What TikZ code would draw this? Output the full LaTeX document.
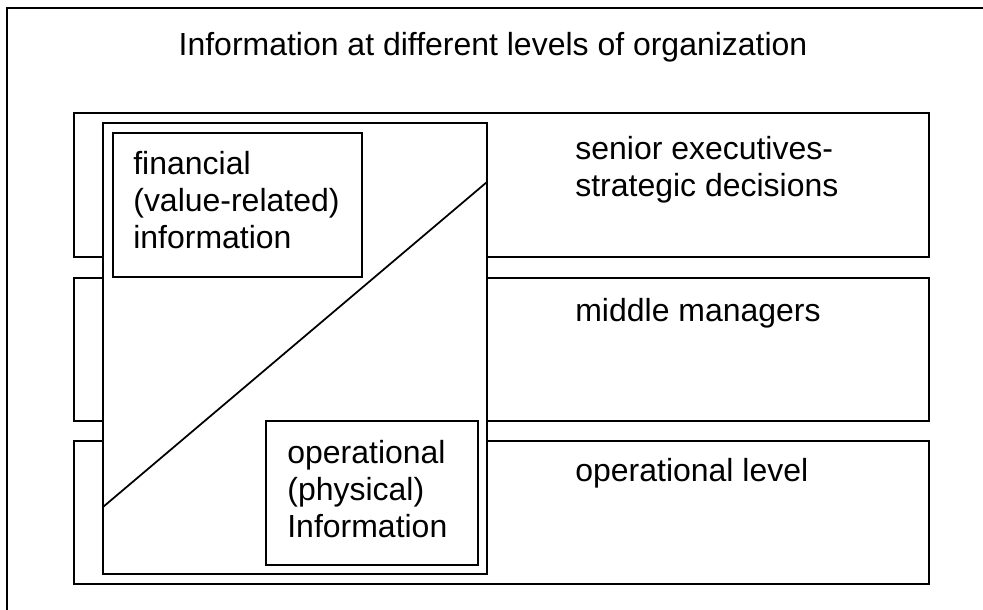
\documentclass[tikz,border=0pt]{standalone}
\usepackage{fontspec}
\setmainfont{Liberation Sans}
\usetikzlibrary{positioning}
\tikzset{
  frame/.style={draw=black,line width=1pt},
  levelbox/.style={frame},
  column/.style={frame,fill=white},
  infobox/.style={frame,fill=white},
  lbl/.style={anchor=base west,align=left,inner sep=0pt,font=\fontsize{18.2}{21}\selectfont},
}
\begin{document}
\begin{tikzpicture}[x=0.02cm,y=-0.02cm]
  \clip (0,0) rectangle (983,609);
  \draw[frame] (7,8) rectangle (1000,630);
  \node[lbl,anchor=base] (title) at (493,55) {Information at different levels of organization};
  % levels of the organization (base = last line)
  \draw[levelbox] (74,113) rectangle (929,257);
  \draw[levelbox] (74,278) rectangle (929,421);
  \draw[levelbox] (74,441) rectangle (929,584);
  \node[lbl] (senior) at (575,196) {senior executives-\\strategic decisions};
  \node[lbl] (middle) at (575,321) {middle managers};
  \node[lbl] (oplevel) at (575,481) {operational level};
  % information column
  \draw[column] (103,123) rectangle (487,574);
  \coordinate (diagA) at (103,507);
  \coordinate (diagB) at (487,182);
  \draw[frame] (diagA) -- (diagB);
  \draw[infobox] (113,133) rectangle (362,277);
  \node[lbl] (financial) at (133,248) {financial\\(value-related)\\information};
  \draw[infobox] (266,421) rectangle (478,565);
  \node[lbl] (operational) at (287,537) {operational\\(physical)\\Information};
\end{tikzpicture}
\end{document}
